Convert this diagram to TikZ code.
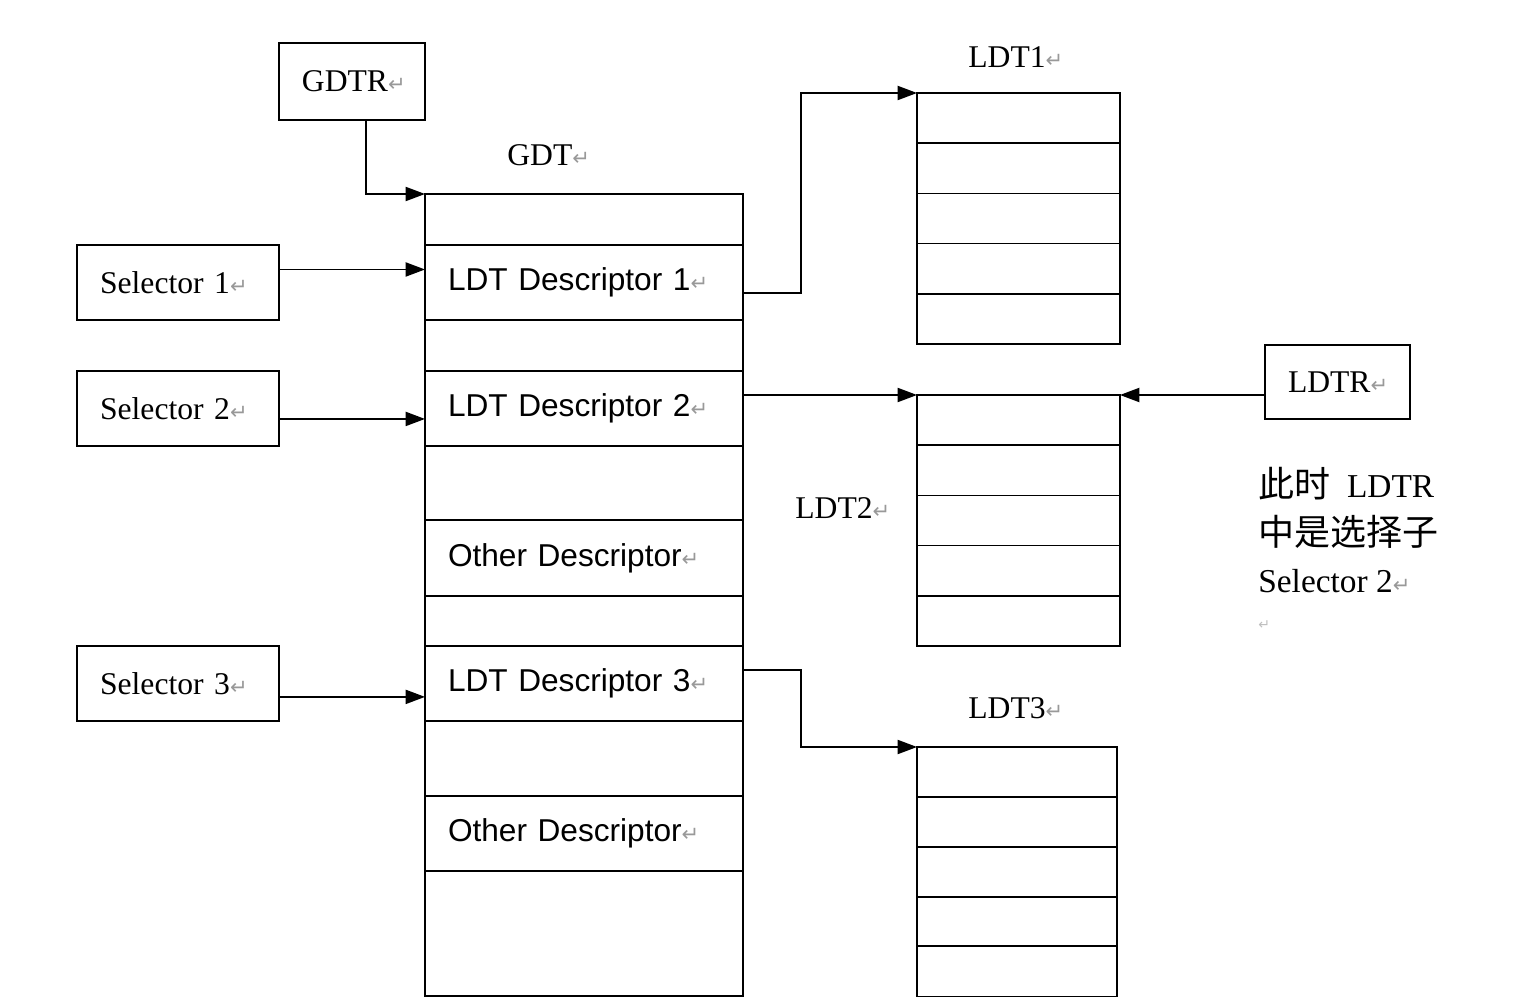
\documentclass[tikz,border=0pt]{standalone}
\usepackage{fontspec}
\setmainfont{Liberation Serif}
\newfontfamily\descfont{Liberation Sans}
\newfontfamily\cjkfont{Noto Sans CJK SC}
\newfontfamily\markfont{DejaVu Sans}
\usepackage{tikz}
\usetikzlibrary{positioning,calc,arrows.meta}
\newcommand{\pmark}{{\color{black!40}\markfont\fontsize{12}{12}\selectfont ↵}}

\begin{document}
\begin{tikzpicture}[x=0.02cm, y=-0.02cm,
  every node/.style={font=\fontsize{18}{22}\selectfont},
  box/.style={rectangle, draw, line width=1pt, outer sep=0pt,
    inner xsep=0.46cm, align=left},
  selbox/.style={box, minimum width=4.04cm, text width=3.12cm,
    minimum height=1.5cm},
  cell/.style={box, minimum width=6.36cm, text width=5.44cm,
    font=\descfont\fontsize{18}{22}\selectfont},
  slot/.style={rectangle, draw, line width=1pt, outer sep=0pt,
    minimum height=1.004cm},
  label/.style={anchor=west, inner sep=0pt},
  arrow/.style={-{Triangle[length=11pt,width=8pt]}, line width=1pt}]
  \useasboundingbox (0,0) rectangle (1522,1003);

  \node[box, minimum width=2.92cm, minimum height=1.54cm, text width=2.0cm,
    inner xsep=0.46cm, anchor=north west] (gdtr) at (279,43) {GDTR\pmark};
  \node[label] (gdtlbl) at (507,155) {GDT\pmark};

  \node[cell, minimum height=1.02cm, anchor=north west] (g0) at (425,194) {};
  \node[cell, minimum height=1.5cm, below=0pt of g0] (g1) {LDT Descriptor 1\pmark};
  \node[cell, minimum height=1.02cm, below=0pt of g1] (g2) {};
  \node[cell, minimum height=1.5cm, below=0pt of g2] (g3) {LDT Descriptor 2\pmark};
  \node[cell, minimum height=1.48cm, below=0pt of g3] (g4) {};
  \node[cell, minimum height=1.52cm, below=0pt of g4] (g5) {Other Descriptor\pmark};
  \node[cell, minimum height=1.0cm, below=0pt of g5] (g6) {};
  \node[cell, minimum height=1.5cm, below=0pt of g6] (g7) {LDT Descriptor 3\pmark};
  \node[cell, minimum height=1.5cm, below=0pt of g7] (g8) {};
  \node[cell, minimum height=1.5cm, below=0pt of g8] (g9) {Other Descriptor\pmark};
  \node[cell, minimum height=2.5cm, below=0pt of g9] (g10) {};

  \node[selbox, left=2.92cm of g1] (sel1) {Selector 1\pmark};
  \node[selbox, left=2.92cm of g3] (sel2) {Selector 2\pmark};
  \node[selbox, left=2.92cm of g7] (sel3) {Selector 3\pmark};

  \node[label] (ldt1lbl) at (968,57) {LDT1\pmark};
  \foreach \i in {1,...,5}
    \node[slot, minimum width=4.06cm, anchor=north west] (ldt1-\i) at (917,{93+50.2*(\i-1)}) {};
  \node[label] (ldt2lbl) at (795,508) {LDT2\pmark};
  \foreach \i in {1,...,5}
    \node[slot, minimum width=4.06cm, anchor=north west] (ldt2-\i) at (917,{395+50.2*(\i-1)}) {};
  \node[label] (ldt3lbl) at (968,708) {LDT3\pmark};
  \foreach \i in {1,...,5}
    \node[slot, minimum width=4.0cm, anchor=north west] (ldt3-\i) at (917,{747+49.8*(\i-1)}) {};

  \node[box, minimum width=2.9cm, minimum height=1.48cm, text width=1.98cm,
    inner xsep=0.44cm, anchor=north west] (ldtr) at (1265,345) {LDTR\pmark};
  \node[anchor=north west, align=left, inner sep=0pt,
    font=\fontsize{19}{27}\selectfont] (note) at (1258,467)
    {{\cjkfont\fontsize{20.5}{27}\selectfont 此时}\ \ LDTR\\
     {\cjkfont\fontsize{20.5}{27}\selectfont 中是选择子}\\
     Selector 2\pmark\\[-6pt]
     {\color{black!25}\markfont\fontsize{8}{8}\selectfont ↵}};

  \draw[arrow] ([xshift=0.28cm]gdtr.south) |- (g0.north west);
  \draw[arrow] ([yshift=0.26cm]sel1.east) -- ([yshift=0.26cm]g1.west);
  \draw[arrow] ([yshift=-0.21cm]sel2.east) -- ([yshift=-0.21cm]g3.west);
  \draw[arrow] ([yshift=-0.27cm]sel3.east) -- ([yshift=-0.27cm]g7.west);
  \draw[arrow] ([yshift=-0.21cm]g1.east) -- ++(1.16cm,0) |- (ldt1-1.north west);
  \draw[arrow] (g3.east |- ldt2-1.north west) -- (ldt2-1.north west);
  \draw[arrow] (ldtr.west |- ldt2-1.north east) -- (ldt2-1.north east);
  \draw[arrow] ([yshift=0.27cm]g7.east) -- ++(1.16cm,0) |- (ldt3-1.north west);
\end{tikzpicture}
\end{document}
